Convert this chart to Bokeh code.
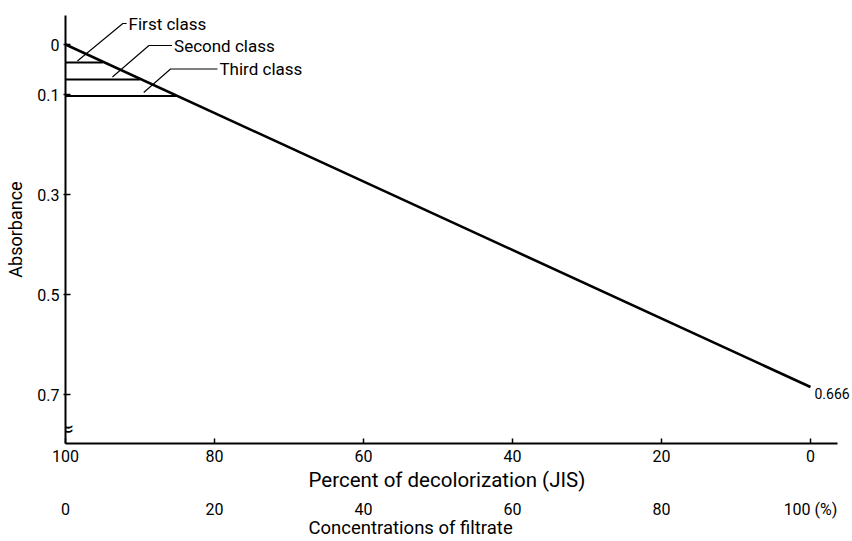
from bokeh.plotting import figure
from bokeh.models import Range1d, LinearAxis, FixedTicker, Label, Title, ColumnDataSource
from bokeh.embed import file_html
from bokeh.resources import INLINE

FONT = "Roboto"

# ---------------- data ----------------
decol_pct = [100, 0]            # percent of decolorization (JIS) at line ends
absorbance = [0.0, 0.685]       # absorbance at line ends (as drawn)
end_label = "0.666"

class_names = ["First class", "Second class", "Third class"]
class_pct = [95, 90, 85]        # JIS decolorization limit per class
class_abs = [0.036, 0.070, 0.103]

x_ticks = [100, 80, 60, 40, 20, 0]
conc_ticks = [0, 20, 40, 60, 80, 100]
conc_tick_labels = ["0", "20", "40", "60", "80", "100 (%)"]
y_ticks = [0, 0.1, 0.3, 0.5, 0.7]
y_tick_labels = ["0", "0.1", "0.3", "0.5", "0.7"]

x_title = "Percent of decolorization (JIS)"
conc_title = "Concentrations of filtrate"
y_title = "Absorbance"

# ---------------- figure ----------------
X_END = -5.37
p = figure(width=850, height=539,
           x_range=Range1d(100, X_END), y_range=Range1d(0.798, -0.058),
           x_axis_type=None, y_axis_type=None,
           output_backend="svg", toolbar_location=None,
           min_border_left=65, min_border_right=0,
           min_border_top=15, min_border_bottom=96)
p.outline_line_color = None
p.background_fill_color = "white"
p.border_fill_color = "white"
p.extra_x_ranges = {"conc": Range1d(0, 100 - X_END)}


def style_axis(ax, tick_size="16px"):
    ax.major_label_text_font = FONT
    ax.major_label_text_font_size = tick_size
    ax.major_label_text_color = "black"
    ax.axis_label_text_font = FONT
    ax.axis_label_text_font_size = "18px"
    ax.axis_label_text_font_style = "normal"
    ax.axis_label_text_color = "black"
    ax.minor_tick_line_color = None
    ax.axis_line_color = "black"
    ax.major_tick_line_color = "black"


def title(text, offset, standoff, size):
    return Title(text=text, align="left", offset=offset, standoff=standoff,
                 text_font=FONT, text_font_size=size, text_font_style="normal",
                 text_color="black")


xa = LinearAxis(ticker=FixedTicker(ticks=x_ticks), bounds=(100, -3.6))
style_axis(xa)
xa.axis_line_width = 2
xa.major_tick_in = 5
xa.major_tick_out = 0
xa.major_tick_line_width = 1.5
xa.major_label_standoff = 6
p.add_layout(xa, "below")
p.add_layout(title(x_title, 243, 2, "20.5px"), "below")

ca = LinearAxis(ticker=FixedTicker(ticks=conc_ticks), x_range_name="conc",
                major_label_overrides={t: s for t, s in zip(conc_ticks, conc_tick_labels)})
style_axis(ca)
ca.axis_line_color = None
ca.major_tick_line_color = None
ca.major_tick_in = 0
ca.major_tick_out = 0
ca.major_label_standoff = 7
p.add_layout(ca, "below")
p.add_layout(title(conc_title, 243, -14, "18.5px"), "below")

ya = LinearAxis(ticker=FixedTicker(ticks=y_ticks), axis_label=y_title,
                major_label_overrides={t: s for t, s in zip(y_ticks, y_tick_labels)})
style_axis(ya)
ya.axis_line_width = 2
ya.major_tick_in = 5
ya.major_tick_out = 2
ya.major_tick_line_width = 1.5
ya.major_label_standoff = 4
ya.axis_label_standoff = 8
p.add_layout(ya, "left")

# ---------------- marks ----------------
p.line(decol_pct, absorbance, line_color="black", line_width=2.6)

cls = ColumnDataSource(dict(pct=class_pct, ab=class_abs))
p.segment(x0=decol_pct[0], y0="ab", x1="pct", y1="ab", source=cls,
          line_color="black", line_width=1.8)

# leader lines (annotation layout) and class names
leaders_x = [[98.4, 92.3, 91.8], [93.7, 88.8, 85.7], [89.5, 85.9, 79.6]]
leaders_y = [[0.033, -0.042, -0.042], [0.065, 0.002, 0.002], [0.096, 0.049, 0.049]]
p.multi_line(leaders_x, leaders_y, line_color="black", line_width=1.1)
for name, lx, ly in zip(class_names, leaders_x, leaders_y):
    p.add_layout(Label(x=lx[-1], y=ly[-1], x_offset=2, text=name,
                       text_font=FONT, text_font_size="17px", text_color="black",
                       text_align="left", text_baseline="middle"))

# value at end of line
p.add_layout(Label(x=decol_pct[1], y=absorbance[1], x_offset=4, y_offset=-6,
                   text=end_label, text_font=FONT, text_font_size="14px",
                   text_color="black", text_align="left", text_baseline="middle"))

# axis break mark
p.add_layout(Label(x=decol_pct[0], y=0.768, text="\u2248", text_font="DejaVu Sans",
                   text_font_size="22px", text_color="black",
                   text_align="center", text_baseline="middle"))

open("out.html", "w").write(file_html(p, INLINE))
